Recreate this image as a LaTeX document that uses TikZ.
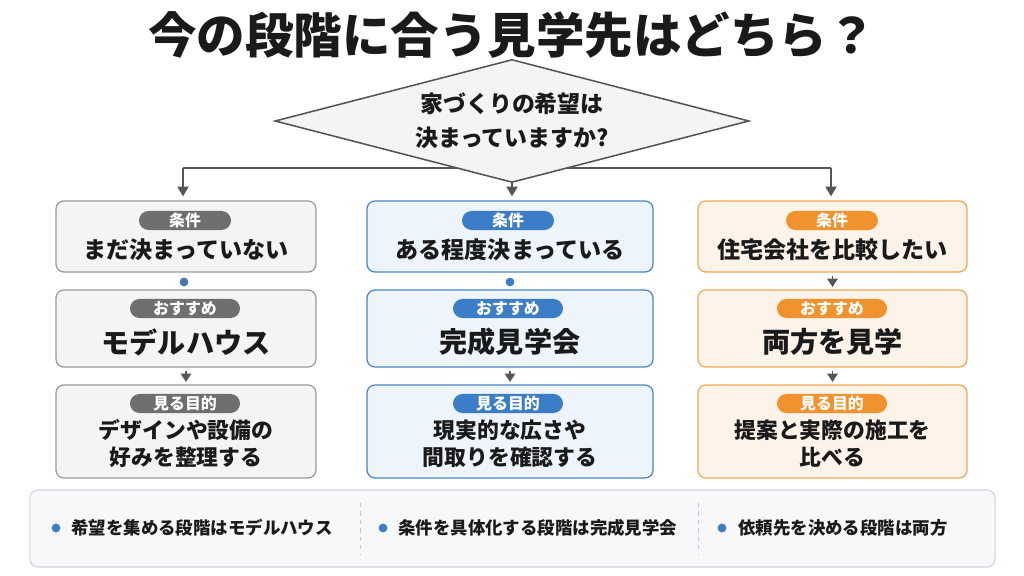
\documentclass[tikz,border=0pt]{standalone}
\usepackage{fontspec}
\setmainfont{Noto Sans CJK JP}
\usetikzlibrary{arrows.meta,positioning,shapes.geometric}
\definecolor{GrayLine}{HTML}{9A9A9A}
\definecolor{GrayFill}{HTML}{F4F4F4}
\definecolor{GrayTag}{HTML}{6F6F6F}
\definecolor{BlueLine}{HTML}{4A86C8}
\definecolor{BlueFill}{HTML}{EEF4FB}
\definecolor{BlueTag}{HTML}{3B7DC7}
\definecolor{OrangeLine}{HTML}{F2A654}
\definecolor{OrangeFill}{HTML}{FDF3E8}
\definecolor{OrangeTag}{HTML}{F2922F}
\definecolor{ArrowClr}{HTML}{555555}
\definecolor{InkClr}{HTML}{1A1A1A}
\definecolor{PanelFill}{HTML}{F6F8FA}
\definecolor{PanelLine}{HTML}{D0D6DE}

\begin{document}
\begin{tikzpicture}[x=0.025cm,y=-0.025cm,
  card/.style={draw=#1Line,fill=#1Fill,line width=0.9pt,rounded corners=0.2cm,inner sep=0pt},
  tag/.style={fill=#1Tag,text=white,rounded corners=0.2375cm,minimum height=0.475cm,
    inner sep=0pt,font=\fontsize{11.3}{13}\selectfont\bfseries},
  cond/.style={text=InkClr,inner sep=0pt,font=\fontsize{16.4}{20}\selectfont\bfseries},
  pick/.style={text=InkClr,inner sep=0pt,font=\fontsize{20}{24}\selectfont\bfseries},
  goal/.style={text=InkClr,inner sep=0pt,align=center,font=\fontsize{15.5}{19.5}\selectfont\bfseries},
  link/.style={draw=ArrowClr,line width=1.1pt},
  arr/.style={link,-{Triangle[length=7pt,width=8pt]},shorten >=0.1cm},
  arrs/.style={link,-{Triangle[length=6pt,width=7.5pt]},shorten <=0.08cm,shorten >=0.06cm},
  dot/.style={circle,fill=#1,minimum size=0.22cm,inner sep=0pt},
  note/.style={text=InkClr,inner sep=0pt,anchor=west,font=\fontsize{12.4}{15}\selectfont\bfseries}]

\useasboundingbox[fill=white] (0,0) rectangle (1024,576);

% title
\node[text=InkClr,font=\fontsize{34.5}{40}\selectfont\bfseries] (title) at (512,35) {今の段階に合う見学先はどちら？};

% question
\coordinate (jl) at (183,168);
\coordinate (jr) at (831,168);
\draw[link] (jl) -- (jr);
\node[diamond,aspect=3.85,draw=ArrowClr,fill=GrayFill,line width=1.1pt,minimum width=11.85cm,
  minimum height=3.075cm,inner sep=0pt,align=center,text=InkClr,
  font=\fontsize{16.3}{24}\selectfont\bfseries] (q) at (512,121) {家づくりの希望は\\決まっていますか?};

% left column
\node[card=Gray,minimum width=6.5cm,minimum height=1.775cm] (c1) at (186,236.5) {};
\node[tag=Gray,minimum width=2.3cm] (c1t) at (185,220.5) {条件};
\node[cond] (c1x) at (186,250) {まだ決まっていない};
\node[card=Gray,minimum width=6.5cm,minimum height=1.925cm] (p1) at (186,328.5) {};
\node[tag=Gray,minimum width=2.75cm] (p1t) at (185,308.5) {おすすめ};
\node[pick] (p1x) at (186,342) {モデルハウス};
\node[card=Gray,minimum width=6.5cm,minimum height=2.325cm] (g1) at (186,431.5) {};
\node[tag=Gray,minimum width=2.75cm] (g1t) at (185,403.5) {見る目的};
\node[goal] (g1x) at (186,443.5) {デザインや設備の\\好みを整理する};

% middle column
\node[card=Blue,minimum width=7.15cm,minimum height=1.775cm] (c2) at (510,236.5) {};
\node[tag=Blue,minimum width=2.3cm] (c2t) at (508,220.5) {条件};
\node[cond] (c2x) at (510,250) {ある程度決まっている};
\node[card=Blue,minimum width=7.15cm,minimum height=1.925cm] (p2) at (510,328.5) {};
\node[tag=Blue,minimum width=2.75cm] (p2t) at (508,308.5) {おすすめ};
\node[pick] (p2x) at (510,342) {完成見学会};
\node[card=Blue,minimum width=7.15cm,minimum height=2.325cm] (g2) at (510,431.5) {};
\node[tag=Blue,minimum width=2.75cm] (g2t) at (508,403.5) {見る目的};
\node[goal] (g2x) at (510,443.5) {現実的な広さや\\間取りを確認する};

% right column
\node[card=Orange,minimum width=6.725cm,minimum height=1.775cm] (c3) at (832.5,236.5) {};
\node[tag=Orange,minimum width=2.3cm] (c3t) at (832,220.5) {条件};
\node[cond] (c3x) at (832.5,250) {住宅会社を比較したい};
\node[card=Orange,minimum width=6.725cm,minimum height=1.925cm] (p3) at (832.5,328.5) {};
\node[tag=Orange,minimum width=2.75cm] (p3t) at (832,308.5) {おすすめ};
\node[pick] (p3x) at (832.5,342) {両方を見学};
\node[card=Orange,minimum width=6.725cm,minimum height=2.325cm] (g3) at (832.5,431.5) {};
\node[tag=Orange,minimum width=2.75cm] (g3t) at (832,403.5) {見る目的};
\node[goal] (g3x) at (832.5,443.5) {提案と実際の施工を\\比べる};

% connectors
\draw[arr] (jl) -- (jl |- c1.north);
\draw[arr] (q.south) -- (q.south |- c2.north);
\draw[arr] (jr) -- (jr |- c3.north);
\node[dot=BlueTag!70!GrayTag] (k1) at (184,282) {};
\node[dot=BlueTag] (k2) at (510,282) {};
\draw[arrs] (c3.south) -- (p3.north);
\draw[arrs] (p1.south) -- (g1.north);
\draw[arrs] (p2.south) -- (g2.north);
\draw[arrs] (p3.south) -- (g3.north);

% summary
\node[draw=PanelLine,fill=PanelFill,line width=0.8pt,rounded corners=0.2cm,
  minimum width=24.125cm,minimum height=1.925cm] (sum) at (512.5,528.5) {};
\draw[PanelLine!80!gray,dashed,line width=0.6pt] (360,503) -- (360,555);
\draw[PanelLine!80!gray,dashed,line width=0.6pt] (698,503) -- (698,555);
\node[dot=BlueTag] (b1) at (56,528) {};
\node[note] (n1) at (71,528) {希望を集める段階はモデルハウス};
\node[dot=BlueTag] (b2) at (383,528) {};
\node[note] (n2) at (398,528) {条件を具体化する段階は完成見学会};
\node[dot=BlueTag] (b3) at (722,528) {};
\node[note] (n3) at (738,528) {依頼先を決める段階は両方};

\end{tikzpicture}
\end{document}
